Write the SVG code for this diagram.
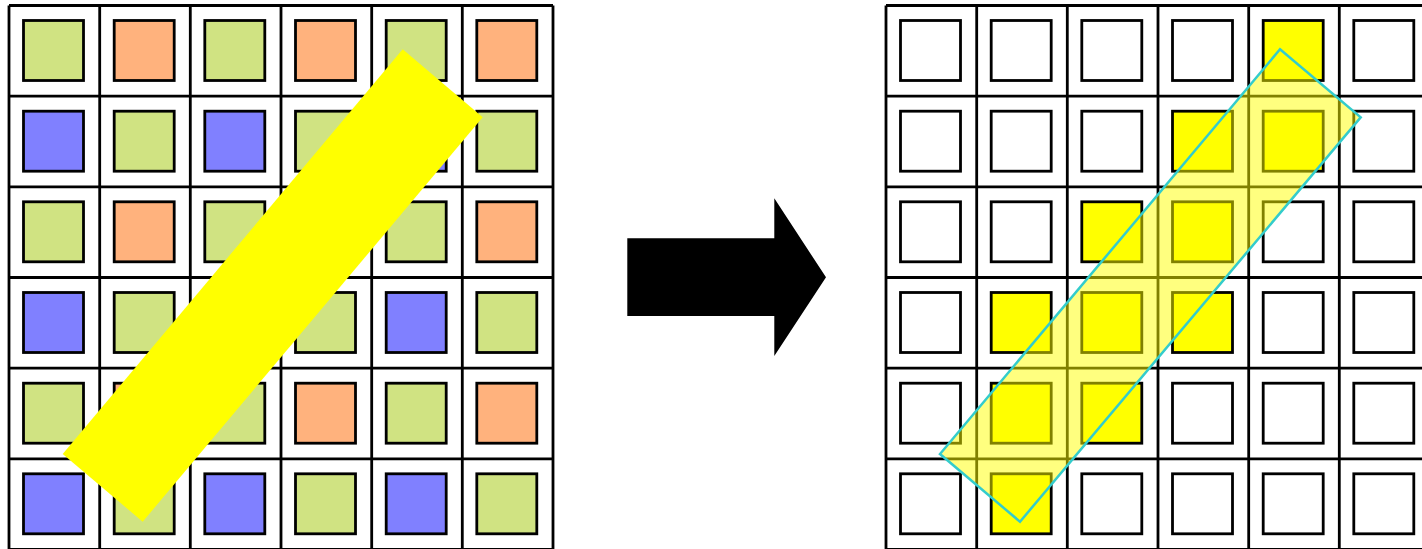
<svg xmlns="http://www.w3.org/2000/svg" width="1422" height="549" viewBox="0 0 1422 549">
<style>
.grid{fill:none;stroke:#000;stroke-width:2.8}
.sq{stroke:#000;stroke-width:2.8}
.g{fill:#D0E382}.o{fill:#FFB27D}.b{fill:#8080FF}.w{fill:#fff}.y{fill:#FFFF00}
</style>
<defs>
<path id="lines" d="M9,5.5V560M99.7,5.5V560M190.3,5.5V560M281,5.5V560M371.7,5.5V560M462.3,5.5V560M553,5.5V560M9,5.5H553M9,96.2H553M9,186.8H553M9,277.5H553M9,368.2H553M9,458.8H553M9,549.5H553"/>
</defs>
<rect width="1422" height="549" fill="#fff"/>
<g id="left-grid">
<use href="#lines" class="grid"/>
<g class="sq">
<rect class="g" x="23.5" y="20.5" width="60" height="60"/><rect class="o" x="114.2" y="20.5" width="60" height="60"/><rect class="g" x="204.8" y="20.5" width="60" height="60"/><rect class="o" x="295.5" y="20.5" width="60" height="60"/><rect class="g" x="386.2" y="20.5" width="60" height="60"/><rect class="o" x="476.8" y="20.5" width="60" height="60"/>
<rect class="b" x="23.5" y="111.2" width="60" height="60"/><rect class="g" x="114.2" y="111.2" width="60" height="60"/><rect class="b" x="204.8" y="111.2" width="60" height="60"/><rect class="g" x="295.5" y="111.2" width="60" height="60"/><rect class="b" x="386.2" y="111.2" width="60" height="60"/><rect class="g" x="476.8" y="111.2" width="60" height="60"/>
<rect class="g" x="23.5" y="201.8" width="60" height="60"/><rect class="o" x="114.2" y="201.8" width="60" height="60"/><rect class="g" x="204.8" y="201.8" width="60" height="60"/><rect class="o" x="295.5" y="201.8" width="60" height="60"/><rect class="g" x="386.2" y="201.8" width="60" height="60"/><rect class="o" x="476.8" y="201.8" width="60" height="60"/>
<rect class="b" x="23.5" y="292.5" width="60" height="60"/><rect class="g" x="114.2" y="292.5" width="60" height="60"/><rect class="b" x="204.8" y="292.5" width="60" height="60"/><rect class="g" x="295.5" y="292.5" width="60" height="60"/><rect class="b" x="386.2" y="292.5" width="60" height="60"/><rect class="g" x="476.8" y="292.5" width="60" height="60"/>
<rect class="g" x="23.5" y="383.2" width="60" height="60"/><rect class="o" x="114.2" y="383.2" width="60" height="60"/><rect class="g" x="204.8" y="383.2" width="60" height="60"/><rect class="o" x="295.5" y="383.2" width="60" height="60"/><rect class="g" x="386.2" y="383.2" width="60" height="60"/><rect class="o" x="476.8" y="383.2" width="60" height="60"/>
<rect class="b" x="23.5" y="473.8" width="60" height="60"/><rect class="g" x="114.2" y="473.8" width="60" height="60"/><rect class="b" x="204.8" y="473.8" width="60" height="60"/><rect class="g" x="295.5" y="473.8" width="60" height="60"/><rect class="b" x="386.2" y="473.8" width="60" height="60"/><rect class="g" x="476.8" y="473.8" width="60" height="60"/>
</g>
<polygon id="left-band" points="402.7,49.3 482.7,117.3 142.7,521.7 62.7,454" fill="#FFFF00"/>
</g>
<g id="arrow">
<polygon points="627.3,238.3 774.3,238.3 774.3,198.3 826,277.3 774.3,356 774.3,316 627.3,316" fill="#000"/>
</g>
<g id="right-grid" transform="translate(877,0)">
<use href="#lines" class="grid"/>
<g class="sq">
<rect class="w" x="23.5" y="20.5" width="60" height="60"/><rect class="w" x="114.2" y="20.5" width="60" height="60"/><rect class="w" x="204.8" y="20.5" width="60" height="60"/><rect class="w" x="295.5" y="20.5" width="60" height="60"/><rect class="y" x="386.2" y="20.5" width="60" height="60"/><rect class="w" x="476.8" y="20.5" width="60" height="60"/>
<rect class="w" x="23.5" y="111.2" width="60" height="60"/><rect class="w" x="114.2" y="111.2" width="60" height="60"/><rect class="w" x="204.8" y="111.2" width="60" height="60"/><rect class="y" x="295.5" y="111.2" width="60" height="60"/><rect class="y" x="386.2" y="111.2" width="60" height="60"/><rect class="w" x="476.8" y="111.2" width="60" height="60"/>
<rect class="w" x="23.5" y="201.8" width="60" height="60"/><rect class="w" x="114.2" y="201.8" width="60" height="60"/><rect class="y" x="204.8" y="201.8" width="60" height="60"/><rect class="y" x="295.5" y="201.8" width="60" height="60"/><rect class="w" x="386.2" y="201.8" width="60" height="60"/><rect class="w" x="476.8" y="201.8" width="60" height="60"/>
<rect class="w" x="23.5" y="292.5" width="60" height="60"/><rect class="y" x="114.2" y="292.5" width="60" height="60"/><rect class="y" x="204.8" y="292.5" width="60" height="60"/><rect class="y" x="295.5" y="292.5" width="60" height="60"/><rect class="w" x="386.2" y="292.5" width="60" height="60"/><rect class="w" x="476.8" y="292.5" width="60" height="60"/>
<rect class="w" x="23.5" y="383.2" width="60" height="60"/><rect class="y" x="114.2" y="383.2" width="60" height="60"/><rect class="y" x="204.8" y="383.2" width="60" height="60"/><rect class="w" x="295.5" y="383.2" width="60" height="60"/><rect class="w" x="386.2" y="383.2" width="60" height="60"/><rect class="w" x="476.8" y="383.2" width="60" height="60"/>
<rect class="w" x="23.5" y="473.8" width="60" height="60"/><rect class="y" x="114.2" y="473.8" width="60" height="60"/><rect class="w" x="204.8" y="473.8" width="60" height="60"/><rect class="w" x="295.5" y="473.8" width="60" height="60"/><rect class="w" x="386.2" y="473.8" width="60" height="60"/><rect class="w" x="476.8" y="473.8" width="60" height="60"/>
</g>
<polygon id="right-band" points="403,49.3 483.7,117.3 143,521.7 63,454" fill="#FFFF00" fill-opacity="0.5" stroke="#33CCCC" stroke-width="2.5"/>
</g>
</svg>
